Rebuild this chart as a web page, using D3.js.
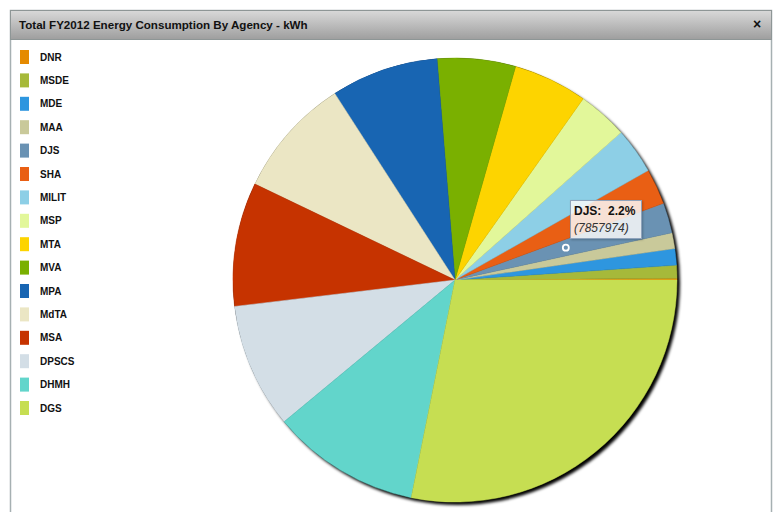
<!DOCTYPE html>
<html>
<head>
<meta charset="utf-8">
<script src="https://cdn.jsdelivr.net/npm/d3@7"></script>
<style>
  html, body { margin: 0; padding: 0; background: #fff; }
  svg { display: block; font-family: "Liberation Sans", Arial, Helvetica, sans-serif; }
</style>
</head>
<body>
<svg id="chart" width="775" height="512"></svg>
<script>
const title = "Total FY2012 Energy Consumption By Agency - kWh";
const agencies = ["DNR","MSDE","MDE","MAA","DJS","SHA","MILIT","MSP","MTA","MVA","MPA","MdTA","MSA","DPSCS","DHMH","DGS"];
const kwh = [430000, 3390000, 4290000, 4100000, 7857974, 9290000, 11970000, 13040000, 19290000, 20360000, 27970000, 31360000, 32250000, 32600000, 38690000, 100700000];
const colors = ["#E58A00","#A6B93A","#2E96DF","#C9C99A","#6A92B3","#E95F14","#8DCFE6","#E2F79A","#FDD400","#7AB000","#1865B2","#EBE6C4","#C63300","#D3DEE6","#62D5CB","#C6DE52"];
const hoverAgency = "DJS";

const data = agencies.map((a, i) => ({ name: a, value: kwh[i] }));
const total = d3.sum(kwh);

const svg = d3.select("#chart");
const defs = svg.append("defs");

const grad = defs.append("linearGradient").attr("id", "hdr").attr("x1", 0).attr("y1", 0).attr("x2", 0).attr("y2", 1);
grad.append("stop").attr("offset", "0%").attr("stop-color", "#d9d9d9");
grad.append("stop").attr("offset", "100%").attr("stop-color", "#9e9e9e");

const shadow = defs.append("filter").attr("id", "shadow").attr("x", "-10%").attr("y", "-10%").attr("width", "120%").attr("height", "120%");
shadow.append("feDropShadow").attr("dx", 3).attr("dy", 3).attr("stdDeviation", 1.8).attr("flood-color", "#000").attr("flood-opacity", 1);

const tipShadow = defs.append("filter").attr("id", "tipShadow").attr("x", "-20%").attr("y", "-20%").attr("width", "140%").attr("height", "140%");
tipShadow.append("feDropShadow").attr("dx", 1).attr("dy", 1).attr("stdDeviation", 1).attr("flood-color", "#000").attr("flood-opacity", 0.25);

// Panel frame
svg.append("rect").attr("x", 10.5).attr("y", 10.5).attr("width", 761).attr("height", 520)
  .attr("fill", "#fff").attr("stroke", "#a6b0b2").attr("stroke-width", 1.5);

// Title bar
svg.append("rect").attr("x", 10.5).attr("y", 10.5).attr("width", 761).attr("height", 29)
  .attr("fill", "url(#hdr)").attr("stroke", "#8e9696").attr("stroke-width", 1);
svg.append("text").attr("x", 19).attr("y", 28.5).attr("font-size", 11.6).attr("font-weight", "bold").attr("fill", "#111").text(title);
svg.append("text").attr("x", 757).attr("y", 29).attr("font-size", 14).attr("font-weight", "bold").attr("fill", "#111").attr("text-anchor", "middle").text("×");

// Legend
const legendY = d3.scalePoint().domain(agencies).range([57, 408]);
const leg = svg.append("g").selectAll("g").data(data).join("g")
  .attr("transform", d => `translate(20,${legendY(d.name)})`);
leg.append("rect").attr("x", 0).attr("y", -7).attr("width", 9).attr("height", 14)
  .attr("fill", (d, i) => colors[i]);
leg.append("text").attr("x", 20).attr("y", 3.5).attr("font-size", 10).attr("font-weight", "bold").attr("fill", "#111")
  .text(d => d.name);

// Pie
const cx = 455, cy = 280, r = 222;
const pie = d3.pie().value(d => d.value).sort(null)
  .startAngle(Math.PI / 2).endAngle(Math.PI / 2 - 2 * Math.PI);
const arcs = pie(data);
const arc = d3.arc().innerRadius(0).outerRadius(r);

const g = svg.append("g").attr("transform", `translate(${cx},${cy})`);
g.append("circle").attr("r", r).attr("fill", "#000").attr("filter", "url(#shadow)");
g.selectAll("path").data(arcs).join("path")
  .attr("d", arc)
  .attr("fill", (d, i) => colors[i])
  .attr("stroke", (d, i) => colors[i]).attr("stroke-width", 0.5);

// Hover marker + tooltip
const hov = arcs.find(d => d.data.name === hoverAgency);
const mid = (hov.startAngle + hov.endAngle) / 2;
const mr = r * 0.52;
const mx = cx + mr * Math.sin(mid), my = cy - mr * Math.cos(mid);
svg.append("circle").attr("cx", mx).attr("cy", my).attr("r", 3)
  .attr("fill", "none").attr("stroke", "#fff").attr("stroke-width", 1.8);

const tip = svg.append("g").attr("transform", `translate(${Math.round(mx) + 4.5},${Math.round(my) - 47.5})`);
tip.append("rect").attr("width", 71).attr("height", 38)
  .attr("fill", "#fff").attr("fill-opacity", 0.8).attr("stroke", "#8fa3bb").attr("stroke-width", 1)
  .attr("filter", "url(#tipShadow)");
tip.append("text").attr("x", 3.5).attr("y", 14).attr("font-size", 12).attr("font-weight", "bold").attr("fill", "#111")
  .attr("xml:space", "preserve")
  .text(`${hov.data.name}:  ${(hov.data.value / total * 100).toFixed(1)}%`);
tip.append("text").attr("x", 3.5).attr("y", 31).attr("font-size", 12).attr("font-style", "italic").attr("fill", "#333")
  .text(`(${hov.data.value})`);
</script>
</body>
</html>
